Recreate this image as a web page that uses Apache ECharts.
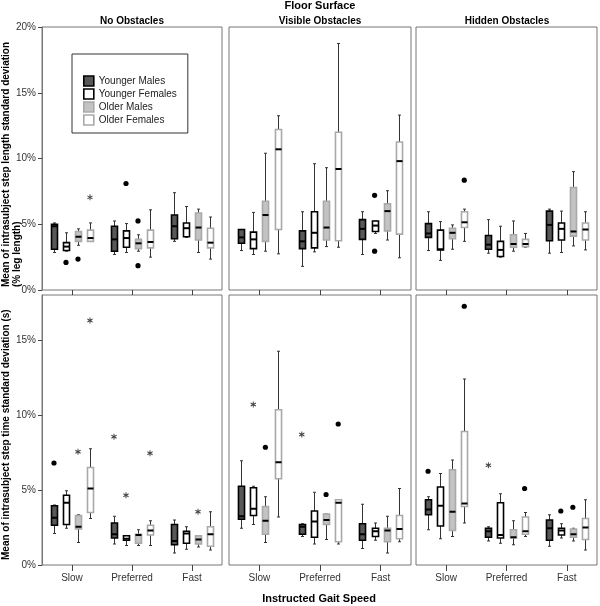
<!DOCTYPE html>
<html>
<head>
<meta charset="utf-8">
<script src="https://cdn.jsdelivr.net/npm/echarts@6/dist/echarts.min.js"></script>
<style>
  html, body { margin: 0; padding: 0; background: #fff; }
  #chart { width: 600px; height: 606px; }
</style>
</head>
<body>
<div id="chart"></div>
<script>
// categories
const speeds = ['Slow', 'Preferred', 'Fast'];
const groups = ['Younger Males', 'Younger Females', 'Older Males', 'Older Females'];
const surfaces = ['No Obstacles', 'Visible Obstacles', 'Hidden Obstacles'];
const lengthTicks = [0, 5, 10, 15, 20];
const timeTicks = [0, 5, 10, 15];

// box values [min, Q1, median, Q3, max] per group, per speed (Slow, Preferred, Fast)
// step length SD (% leg length)
const lenNone = [
  [[2.85, 3.1, 4.85, 5.0, 5.1], [2.7, 2.95, 3.85, 4.85, 5.25], [3.7, 3.9, 4.85, 5.7, 7.4]],
  [[2.95, 3.0, 3.3, 3.6, 4.35], [2.85, 3.25, 3.95, 4.5, 5.05], [4.0, 4.05, 4.7, 5.1, 6.35]],
  [[3.4, 3.7, 4.05, 4.45, 4.65], [2.95, 3.15, 3.55, 3.85, 4.2], [2.85, 3.8, 4.75, 5.85, 6.15]],
  [[3.7, 3.7, 3.95, 4.55, 5.1], [2.5, 3.2, 3.65, 4.55, 6.1], [2.35, 3.2, 3.6, 4.7, 5.55]]
];
const lenVisible = [
  [[3.0, 3.55, 4.0, 4.6, 4.6], [1.8, 3.15, 3.7, 4.5, 5.95], [2.7, 3.85, 4.65, 5.35, 5.95]],
  [[2.7, 3.15, 3.85, 4.4, 5.9], [2.9, 3.2, 4.35, 5.95, 9.6], [4.3, 4.45, 4.9, 5.25, 5.25]],
  [[2.95, 3.7, 5.7, 6.75, 10.4], [3.3, 3.8, 4.75, 6.75, 9.3], [3.8, 4.5, 6.0, 6.55, 7.55]],
  [[2.75, 4.6, 10.7, 12.2, 13.25], [3.25, 3.75, 9.2, 12.0, 18.75], [2.45, 4.25, 9.8, 11.25, 13.3]]
];
const lenHidden = [
  [[3.0, 4.0, 4.3, 5.05, 5.95], [2.8, 3.1, 3.45, 4.15, 5.35], [2.8, 3.75, 4.95, 6.0, 6.15]],
  [[2.25, 3.05, 3.1, 4.55, 5.2], [2.5, 2.55, 3.05, 3.7, 4.85], [2.85, 3.8, 4.65, 5.1, 6.0]],
  [[3.1, 3.9, 4.35, 4.7, 4.95], [2.95, 3.25, 3.5, 4.2, 5.25], [3.35, 4.1, 4.45, 7.8, 9.0]],
  [[3.7, 4.75, 5.15, 5.95, 6.15], [3.25, 3.3, 3.5, 3.85, 4.3], [3.05, 3.8, 4.6, 5.1, 5.95]]
];
// step time SD
const timeNone = [
  [[2.1, 2.65, 3.15, 3.95, 4.0], [1.4, 1.8, 2.05, 2.8, 3.25], [0.8, 1.35, 1.6, 2.7, 3.0]],
  [[2.45, 2.7, 4.15, 4.65, 4.95], [1.3, 1.65, 1.75, 1.95, 1.95], [1.05, 1.45, 2.1, 2.25, 2.55]],
  [[1.5, 2.4, 2.55, 3.3, 3.35], [1.3, 1.45, 2.0, 2.05, 2.35], [1.2, 1.4, 1.7, 1.95, 1.95]],
  [[3.1, 3.5, 5.1, 6.5, 7.75], [1.3, 2.0, 2.3, 2.65, 2.95], [1.0, 1.25, 2.05, 2.55, 3.55]]
];
const timeVisible = [
  [[2.45, 3.05, 3.25, 5.25, 6.95], [1.9, 2.05, 2.55, 2.7, 2.75], [1.1, 1.65, 2.05, 2.75, 4.05]],
  [[2.7, 3.3, 3.75, 5.15, 5.25], [1.4, 1.85, 2.9, 3.6, 4.85], [1.65, 1.9, 2.25, 2.45, 2.8]],
  [[1.5, 2.05, 2.95, 3.9, 4.55], [1.7, 2.7, 3.0, 3.4, 3.4], [0.8, 1.55, 2.3, 2.45, 3.25]],
  [[3.2, 5.75, 6.85, 10.35, 14.25], [1.4, 1.55, 4.15, 4.35, 4.35], [1.55, 1.75, 2.4, 3.3, 5.1]]
];
const timeHidden = [
  [[2.35, 3.35, 3.7, 4.35, 4.55], [1.6, 1.85, 2.25, 2.45, 2.55], [1.25, 1.65, 2.45, 3.0, 3.35]],
  [[1.75, 2.6, 3.95, 5.2, 6.1], [1.45, 1.8, 2.0, 4.15, 4.75], [1.8, 2.0, 2.3, 2.45, 2.75]],
  [[1.9, 2.3, 3.55, 6.35, 7.0], [1.35, 1.8, 1.85, 2.35, 2.95], [1.6, 1.85, 2.05, 2.4, 2.45]],
  [[2.8, 3.9, 4.1, 8.9, 12.4], [1.9, 2.05, 2.25, 3.2, 3.5], [1.0, 1.7, 2.5, 3.1, 4.35]]
];

// outliers [speed index, group index, value, marker: 'o' outlier, '*' extreme]
const lenNoneOut = [[0, 1, 2.1, 'o'], [0, 2, 2.35, 'o'], [0, 3, 7.05, '*'], [1, 1, 8.1, 'o'], [1, 2, 5.25, 'o'], [1, 2, 1.85, 'o']];
const lenVisibleOut = [[2, 1, 7.2, 'o'], [2, 1, 2.95, 'o']];
const lenHiddenOut = [[0, 3, 8.35, 'o']];
const timeNoneOut = [[0, 0, 6.8, 'o'], [0, 2, 7.55, '*'], [0, 3, 16.3, '*'], [1, 0, 8.55, '*'], [1, 1, 4.65, '*'], [1, 3, 7.45, '*'], [2, 2, 3.55, '*']];
const timeVisibleOut = [[0, 1, 10.7, '*'], [0, 2, 7.85, 'o'], [1, 0, 8.7, '*'], [1, 2, 4.7, 'o'], [1, 3, 9.4, 'o']];
const timeHiddenOut = [[0, 0, 6.25, 'o'], [0, 3, 17.25, 'o'], [1, 0, 6.65, '*'], [1, 3, 5.1, 'o'], [2, 1, 3.6, 'o'], [2, 2, 3.85, 'o']];

const panels = [lenNone, lenVisible, lenHidden, timeNone, timeVisible, timeHidden];
const panelOuts = [lenNoneOut, lenVisibleOut, lenHiddenOut, timeNoneOut, timeVisibleOut, timeHiddenOut];

const FONT = 'Liberation Sans, Arial, sans-serif';
const fills = ['#585858', '#ffffff', '#c3c3c3', '#ffffff'];
const strokes = ['#000000', '#000000', '#a9a9a9', '#a9a9a9'];
const offsets = [-0.3, -0.1, 0.1, 0.3];
const lefts = [42, 229, 416];
const widths = [180, 182, 181];
const starPath = 'M-0.8,-5L0.8,-5L0.8,5L-0.8,5Z M3.93,-3.19L4.73,-1.81L-3.93,3.19L-4.73,1.81Z M4.73,1.81L3.93,3.19L-4.73,-1.81L-3.93,-3.19Z';

const chart = echarts.init(document.getElementById('chart'));

function boxRenderer(g) {
  return function (params, api) {
    const cat = api.value(0);
    const band = api.size([1, 0])[0];
    const cx = Math.round(api.coord([cat, 0])[0] + band * offsets[g]) + 0.5;
    const w = band * 0.1;
    const ys = [1, 2, 3, 4, 5].map(i => api.coord([cat, api.value(i)])[1]);
    const wk = { stroke: '#333', lineWidth: 1 };
    return {
      type: 'group',
      children: [
        { type: 'line', shape: { x1: cx, y1: ys[3], x2: cx, y2: ys[4] }, style: wk },
        { type: 'line', shape: { x1: cx, y1: ys[0], x2: cx, y2: ys[1] }, style: wk },
        { type: 'line', shape: { x1: cx - 1.5, y1: ys[4], x2: cx + 1.5, y2: ys[4] }, style: wk },
        { type: 'line', shape: { x1: cx - 1.5, y1: ys[0], x2: cx + 1.5, y2: ys[0] }, style: wk },
        { type: 'rect', shape: { x: cx - w / 2, y: ys[3], width: w, height: ys[1] - ys[3] },
          style: { fill: fills[g], stroke: strokes[g], lineWidth: 1.6 } },
        { type: 'line', shape: { x1: cx - w / 2, y1: ys[2], x2: cx + w / 2, y2: ys[2] },
          style: { stroke: '#000', lineWidth: 2 } }
      ]
    };
  };
}

function outlierRenderer(params, api) {
  const cat = api.value(0);
  const g = api.value(1);
  const band = api.size([1, 0])[0];
  const pt = api.coord([cat, api.value(2)]);
  const cx = pt[0] + band * offsets[g];
  if (api.value(3) === 1) {
    return {
      type: 'path',
      shape: { pathData: starPath, x: cx - 3, y: pt[1] - 3, width: 6, height: 6, layout: 'center' },
      style: { fill: '#444' }
    };
  }
  return { type: 'circle', shape: { cx: cx, cy: pt[1], r: 2.6 }, style: { fill: '#000' } };
}

const grid = [], xAxis = [], yAxis = [], series = [];
for (let p = 0; p < 6; p++) {
  const col = p % 3, bottom = p >= 3;
  grid.push({
    left: lefts[col], width: widths[col],
    top: bottom ? 295 : 27, height: bottom ? 270 : 263,
    show: true, borderColor: '#777', borderWidth: 1, backgroundColor: 'transparent'
  });
  xAxis.push({
    type: 'category', gridIndex: p, data: speeds, boundaryGap: true,
    axisLine: { show: false },
    axisTick: { show: true, alignWithLabel: true, length: bottom ? 6 : 5, lineStyle: { color: '#444' } },
    axisLabel: { show: bottom, margin: 8, fontSize: 10, color: '#333', fontFamily: FONT },
    splitLine: { show: false }
  });
  const ticks = bottom ? timeTicks : lengthTicks;
  yAxis.push({
    type: 'value', gridIndex: p, min: 0, max: bottom ? 18 : 20, interval: 5,
    axisLine: { show: col === 0, lineStyle: { color: '#777' } },
    axisTick: { show: col === 0, length: 4, customValues: ticks, lineStyle: { color: '#444' } },
    axisLabel: {
      show: col === 0, customValues: ticks, fontSize: 10, color: '#333', fontFamily: FONT, margin: 6,
      formatter: v => (v % 5 === 0 ? v + '%' : '')
    },
    splitLine: { show: false }
  });
  for (let g = 0; g < 4; g++) {
    series.push({
      type: 'custom', name: groups[g], xAxisIndex: p, yAxisIndex: p,
      itemStyle: { color: fills[g], borderColor: strokes[g] },
      data: panels[p][g].map((b, i) => [i].concat(b)),
      encode: { x: 0, y: [1, 2, 3, 4, 5] },
      renderItem: boxRenderer(g),
      silent: true
    });
  }
  series.push({
    type: 'custom', name: 'outliers', xAxisIndex: p, yAxisIndex: p,
    data: panelOuts[p].map(o => [o[0], o[1], o[2], o[3] === '*' ? 1 : 0]),
    encode: { x: 0, y: 2 },
    renderItem: outlierRenderer,
    silent: true, z: 3
  });
}

const text = (t, x, y, size, bold, extra) => Object.assign({
  type: 'text', x: x, y: y, silent: true,
  style: Object.assign({
    text: t, fontSize: size, fontWeight: bold ? 'bold' : 'normal', fontFamily: FONT,
    fill: '#000', align: 'center', verticalAlign: 'middle'
  }, extra || {})
}, {});

const graphic = [
  text('Floor Surface', 320, 6, 11, true),
  text(surfaces[0], 132, 21, 10, true),
  text(surfaces[1], 320, 21, 10, true),
  text(surfaces[2], 507, 21, 10, true),
  text('Subject Group', 129, 65, 11, true),
  text('Instructed Gait Speed', 319, 599, 11, true),
  Object.assign(text('Mean of intrasubject step length standard deviation\n(% leg length)', 1, 287, 10, true,
    { align: 'left', verticalAlign: 'top', lineHeight: 11 }), { rotation: Math.PI / 2 }),
  Object.assign(text('Mean of intrasubject step time standard deviation (s)', 1, 560, 10, true,
    { align: 'left', verticalAlign: 'top', lineHeight: 11 }), { rotation: Math.PI / 2 })
];

chart.setOption({
  animation: false,
  backgroundColor: '#fff',
  grid: grid,
  xAxis: xAxis,
  yAxis: yAxis,
  legend: {
    left: 72, top: 54, orient: 'vertical',
    padding: [21, 11, 7, 11], itemGap: 1, itemWidth: 10, itemHeight: 10,
    borderColor: '#333', borderWidth: 1, backgroundColor: '#fff',
    selectedMode: false,
    textStyle: { fontSize: 10, color: '#222', fontFamily: FONT, lineHeight: 12 },
    data: groups.map((g, i) => ({
      name: g, icon: 'rect',
      itemStyle: { color: fills[i], borderColor: strokes[i], borderWidth: 1.6 }
    }))
  },
  graphic: graphic,
  series: series
});
</script>
</body>
</html>
